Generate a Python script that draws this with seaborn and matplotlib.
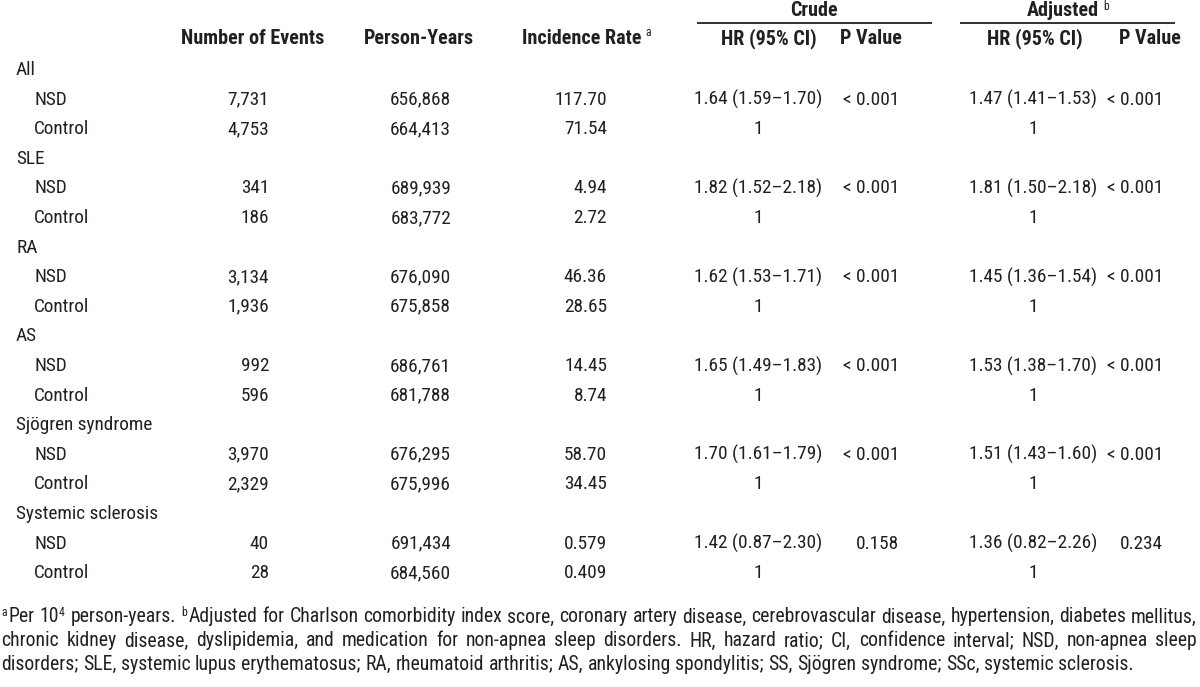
import numpy as np
import pandas as pd
import matplotlib.pyplot as plt
import seaborn as sns
from matplotlib import font_manager

sns.set_theme(style="white")

# pick a narrow sans if one is installed, else plain Liberation Sans
candidates = ['Liberation Sans Narrow', 'Arial Narrow', 'Roboto Condensed',
              'DejaVu Sans Condensed', 'Open Sans Condensed', 'Liberation Sans']
face = 'Liberation Sans'
for c in candidates:
    try:
        font_manager.findfont(font_manager.FontProperties(family=c), fallback_to_default=False)
        face = c
        break
    except Exception:
        continue
plt.rcParams['font.family'] = [face, 'DejaVu Sans']

# ---- table data ----
groups = ['All', 'SLE', 'RA', 'AS', 'Sjögren syndrome', 'Systemic sclerosis']
events_nsd = ['7,731', '341', '3,134', '992', '3,970', '40']
events_ctl = ['4,753', '186', '1,936', '596', '2,329', '28']
pyears_nsd = ['656,868', '689,939', '676,090', '686,761', '676,295', '691,434']
pyears_ctl = ['664,413', '683,772', '675,858', '681,788', '675,996', '684,560']
rate_nsd = ['117.70', '4.94', '46.36', '14.45', '58.70', '0.579']
rate_ctl = ['71.54', '2.72', '28.65', '8.74', '34.45', '0.409']
crude_hr = ['1.64 (1.59–1.70)', '1.82 (1.52–2.18)', '1.62 (1.53–1.71)',
            '1.65 (1.49–1.83)', '1.70 (1.61–1.79)', '1.42 (0.87–2.30)']
crude_p = ['< 0.001', '< 0.001', '< 0.001', '< 0.001', '< 0.001', '0.158']
adj_hr = ['1.47 (1.41–1.53)', '1.81 (1.50–2.18)', '1.45 (1.36–1.54)',
          '1.53 (1.38–1.70)', '1.51 (1.43–1.60)', '1.36 (0.82–2.26)']
adj_p = ['< 0.001', '< 0.001', '< 0.001', '< 0.001', '< 0.001', '0.234']

footnote_lines = [
    [[('a', 1), ('Per', 0)], [('10', 0), ('4', 1)], 'person-years.', [('b', 1), ('Adjusted', 0)],
     'for', 'Charlson', 'comorbidity', 'index', 'score,', 'coronary', 'artery', 'disease,',
     'cerebrovascular', 'disease,', 'hypertension,', 'diabetes', 'mellitus,'],
    ['chronic', 'kidney', 'disease,', 'dyslipidemia,', 'and', 'medication', 'for', 'non-apnea',
     'sleep', 'disorders.', 'HR,', 'hazard', 'ratio;', 'CI,', 'confidence', 'interval;', 'NSD,',
     'non-apnea', 'sleep'],
    ['disorders;', 'SLE,', 'systemic', 'lupus', 'erythematosus;', 'RA,', 'rheumatoid', 'arthritis;',
     'AS,', 'ankylosing', 'spondylitis;', 'SS,', 'Sjögren', 'syndrome;', 'SSc,', 'systemic',
     'sclerosis.'],
]

rows = []
for i, g in enumerate(groups):
    rows.append(dict(label=g, indent=False, ev='', py='', ir='', chr='', cp='', ahr='', ap=''))
    rows.append(dict(label='NSD', indent=True, ev=events_nsd[i], py=pyears_nsd[i], ir=rate_nsd[i],
                     chr=crude_hr[i], cp=crude_p[i], ahr=adj_hr[i], ap=adj_p[i]))
    rows.append(dict(label='Control', indent=True, ev=events_ctl[i], py=pyears_ctl[i], ir=rate_ctl[i],
                     chr='1', cp='', ahr='1', ap=''))
table = pd.DataFrame(rows)

# ---- canvas in pixel coordinates ----
W, H = 1200, 687
ink = '#231f20'

fig = plt.figure(figsize=(W / 100, H / 100), dpi=100)
ax = fig.add_axes([0, 0, 1, 1])
ax.set_xlim(0, W)
ax.set_ylim(H, 0)
ax.axis('off')
fig.canvas.draw()
renderer = fig.canvas.get_renderer()


def width(txt, size, weight='normal'):
    t = ax.text(0, 0, txt, fontsize=size, fontweight=weight)
    w = t.get_window_extent(renderer).width
    t.remove()
    return w


# scale font sizes so text widths follow the reference
fs = min(14.5, 14 * 143 / width('Systemic sclerosis', 14))
fs_hdr = min(14.5, 14 * 150 / width('Number of Events', 14, 'bold'))
fs_sup = fs * 0.6

# column anchors: (key, x, ha)
cols = [('ev', 269, 'right'), ('py', 451, 'right'), ('ir', 607, 'right'),
        ('chr', 758, 'center'), ('cp', 899, 'right'),
        ('ahr', 1033, 'center'), ('ap', 1163, 'right')]

# headers
hy = 39
hdr = dict(fontsize=fs_hdr, fontweight='bold', color=ink, va='center')
ax.text(253, hy, 'Number of Events', ha='center', **hdr)
ax.text(419, hy, 'Person-Years', ha='center', **hdr)
ax.text(641, hy, 'Incidence Rate', ha='right', **hdr)
ax.text(645, hy - 6, 'a', ha='left', fontsize=fs_sup, color=ink, va='center')
ax.text(769, hy, 'HR (95% CI)', ha='center', **hdr)
ax.text(871, hy, 'P Value', ha='center', **hdr)
ax.text(1035, hy, 'HR (95% CI)', ha='center', **hdr)
ax.text(1150, hy, 'P Value', ha='center', **hdr)
ax.text(814, 10, 'Crude', ha='center', **hdr)
ax.text(1099, 10, 'Adjusted', ha='right', **hdr)
ax.text(1103, 6, 'b', ha='left', fontsize=fs_sup, color=ink, va='center')
ax.plot([697, 932], [23, 23], color=ink, lw=1.3, solid_capstyle='butt')
ax.plot([960, 1175], [23, 23], color=ink, lw=1.3, solid_capstyle='butt')

# body
y0, dy = 70, 29.6
for i, r in table.iterrows():
    y = y0 + i * dy
    ax.text(34 if r['indent'] else 16, y, r['label'], ha='left', va='center', fontsize=fs, color=ink)
    for key, x, ha in cols:
        if r[key]:
            ax.text(x, y, r[key], ha=ha, va='center', fontsize=fs, color=ink)


# footnote, justified like the printed table note
def word_parts(w):
    return [(w, 0)] if isinstance(w, str) else w


def line_widths(words, size):
    out = []
    for w in words:
        out.append(sum(width(s, size * 0.6) + 1.5 if sup else width(s, size)
                       for s, sup in word_parts(w)))
    return out


left, right = 1, 1197
# size the note so the first line fills the width with ordinary spaces
w1 = line_widths(footnote_lines[0], 14)
natural = sum(w1) + (len(w1) - 1) * (width('a b', 14) - width('ab', 14))
fs_note = min(14.5, 14 * (right - left) / natural)
space = width('a b', fs_note) - width('ab', fs_note)
sup_note = fs_note * 0.6

fy = [617, 641, 664]
for li, words in enumerate(footnote_lines):
    parts = [word_parts(w) for w in words]
    widths = line_widths(words, fs_note)
    if li < len(footnote_lines) - 1:
        gap = max(space * 0.7, (right - left - sum(widths)) / (len(words) - 1))
    else:
        gap = space
    x = left
    for p, w in zip(parts, widths):
        cx = x
        for s, sup in p:
            if sup:
                ax.text(cx, fy[li] - 5, s, ha='left', va='center', fontsize=sup_note, color=ink)
                cx += width(s, sup_note) + 1.5
            else:
                ax.text(cx, fy[li], s, ha='left', va='center', fontsize=fs_note, color=ink)
                cx += width(s, fs_note)
        x += w + gap

fig.savefig('out.png', dpi=100, facecolor='white')
